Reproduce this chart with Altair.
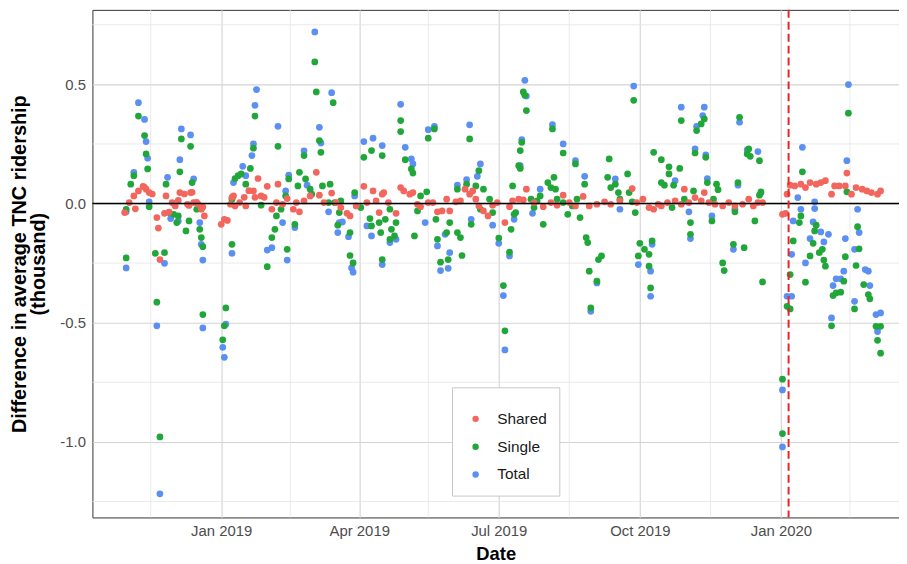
import altair as alt
import pandas as pd

# Days are counted from 1 Jan 2019; values are differences in thousands.
shared_days = [-63, -60, -57, -56, -54, -51, -50, -49, -47, -45, -42, -41, -40, -37, -36, -34, -32, -31, -30, -28,
               -27, -24, -22, -21, -20, -19, -18, -16, -15, -13, -12, -11, 0, 2, 4, 6, 7, 8, 9, 12,
               15, 16, 18, 21, 22, 24, 26, 28, 30, 33, 36, 37, 40, 43, 47, 49, 51, 54, 58, 62,
               64, 67, 72, 75, 78, 82, 84, 88, 93, 95, 99, 101, 103, 105, 106, 109, 114, 117, 119, 123,
               125, 128, 130, 135, 138, 141, 144, 147, 149, 153, 156, 159, 162, 164, 166, 168, 171, 174, 177, 180,
               185, 188, 190, 194, 197, 199, 204, 210, 215, 219, 223, 227, 231, 236, 240, 245, 250, 254, 260, 268,
               271, 275, 279, 282, 285, 287, 291, 296, 300, 302, 305, 309, 313, 315, 318, 322, 327, 331, 335, 340,
               344, 347, 350, 353, 366, 368, 369, 371, 374, 378, 381, 384, 388, 391, 394, 398, 400, 403, 407, 408,
               411, 414, 418, 421, 424, 428, 430]
shared_vals = [-0.038, 0.004, 0.032, -0.022, 0.053, 0.072, 0.068, 0.060, 0.046, 0.040, -0.059, -0.103, -0.235, -0.041, 0.032, -0.036, 0.004, 0.000, -0.010, 0.013,
               0.046, 0.040, -0.003, -0.008, 0.046, 0.047, 0.004, 0.005, -0.003, -0.024, -0.015, -0.052, -0.087, -0.066, -0.071, -0.003, 0.026, 0.032, -0.010, 0.004,
               0.026, -0.010, 0.054, 0.053, 0.026, 0.105, 0.032, 0.026, 0.072, -0.024, 0.004, 0.081, -0.003, 0.021, -0.024, 0.004, -0.035, 0.011, 0.032, 0.131,
               0.035, 0.004, 0.044, 0.004, -0.017, -0.041, -0.052, -0.010, 0.072, 0.004, 0.053, 0.011, -0.038, 0.039, 0.046, 0.004, -0.041, 0.067, 0.053, 0.039,
               0.046, -0.003, -0.013, 0.004, 0.004, -0.035, -0.031, 0.018, -0.031, 0.007, 0.011, 0.060, 0.039, 0.053, 0.018, -0.010, -0.031, -0.052, -0.007, 0.004,
               -0.080, -0.013, 0.011, 0.018, 0.015, 0.060, 0.004, -0.013, 0.004, -0.007, 0.035, 0.004, -0.010, 0.030, -0.010, -0.003, 0.007, -0.003, 0.011, 0.063,
               0.004, 0.018, -0.017, -0.024, -0.003, -0.010, 0.004, 0.011, -0.003, 0.060, 0.004, 0.025, 0.011, 0.046, 0.004, -0.003, -0.010, 0.004, -0.010, -0.003,
               0.018, -0.010, 0.004, 0.004, -0.045, -0.041, 0.039, 0.077, 0.074, 0.081, 0.067, 0.088, 0.081, 0.088, 0.096, 0.039, 0.074, 0.074, 0.074, 0.128,
               0.039, 0.067, 0.060, 0.053, 0.046, 0.039, 0.053]

single_days = [-62, -62, -59, -57, -54, -50, -49, -48, -47, -43, -42, -40, -37, -36, -34, -31, -29, -28, -26, -27,
               -23, -21, -20, -19, -16, -14, -13, -12, -12, 1, 2, 3, 7, 7, 9, 11, 13, 16, 19, 21,
               22, 26, 30, 33, 35, 36, 37, 39, 42, 43, 44, 48, 50, 51, 54, 55, 58, 59, 61, 62,
               64, 65, 66, 70, 71, 73, 74, 76, 77, 78, 84, 84, 86, 87, 91, 93, 98, 97, 98, 104,
               105, 105, 103, 107, 110, 111, 113, 110, 114, 117, 117, 120, 124, 125, 126, 128, 130, 134, 135, 139,
               140, 141, 143, 147, 148, 149, 154, 154, 156, 157, 160, 162, 163, 166, 168, 169, 171, 175, 177, 181,
               184, 185, 188, 189, 190, 191, 194, 192, 195, 195, 196, 197, 198, 199, 202, 204, 206, 208, 210, 213,
               215, 216, 217, 218, 219, 223, 223, 226, 229, 231, 232, 234, 237, 238, 239, 240, 241, 245, 246, 248,
               252, 253, 254, 257, 259, 260, 265, 266, 268, 269, 270, 272, 273, 276, 279, 280, 282, 279, 281, 287,
               292, 292, 287, 289, 295, 294, 299, 300, 302, 306, 306, 308, 309, 310, 313, 315, 316, 317, 320, 321,
               323, 324, 327, 328, 334, 335, 337, 338, 341, 343, 344, 345, 348, 351, 351, 352, 353, 366, 366, 369,
               371, 371, 373, 377, 378, 379, 381, 384, 386, 387, 388, 390, 392, 393, 394, 398, 399, 401, 404, 406,
               407, 409, 408, 413, 414, 415, 416, 419, 422, 423, 427, 428, 430, 430]
single_vals = [-0.228, -0.024, 0.081, 0.117, 0.367, 0.285, 0.208, 0.145, -0.013, -0.209, -0.414, -0.979, -0.206, 0.081, -0.038, -0.045, -0.080, -0.052, 0.271, 0.133,
               -0.115, -0.073, 0.240, 0.088, -0.024, -0.108, -0.143, -0.181, -0.466, -0.572, -0.513, -0.438, -0.171, 0.018, 0.105, 0.117, 0.124, 0.081, 0.147, 0.232,
               0.367, -0.007, -0.265, -0.143, -0.108, -0.052, 0.240, -0.024, 0.032, -0.192, 0.103, -0.087, 0.074, 0.131, 0.201, 0.103, 0.060, 0.039, 0.594, 0.468,
               0.264, 0.215, 0.074, 0.004, 0.081, 0.423, 0.004, -0.091, -0.038, 0.011, -0.122, -0.218, -0.249, 0.046, -0.017, 0.194, 0.222, -0.063, -0.094, -0.122,
               0.201, -0.235, -0.080, -0.066, -0.024, -0.108, -0.136, -0.150, -0.080, 0.348, 0.302, 0.184, 0.145, 0.128, -0.136, -0.031, 0.032, 0.049, 0.274, 0.313,
               -0.066, -0.150, -0.246, -0.122, -0.235, -0.080, 0.060, -0.122, -0.143, -0.218, 0.081, 0.271, -0.087, 0.074, 0.138, -0.024, 0.060, 0.018, -0.038, -0.145,
               -0.344, -0.534, -0.204, -0.108, 0.074, -0.045, 0.159, -0.038, 0.147, 0.222, 0.257, 0.468, 0.454, 0.390, 0.018, -0.017, 0.011, 0.032, -0.087, 0.088,
               0.067, 0.313, 0.110, 0.060, 0.018, 0.212, 0.004, -0.045, -0.010, 0.166, 0.018, -0.059, 0.081, -0.143, -0.164, -0.284, -0.438, -0.326, -0.235, -0.220,
               0.110, 0.187, 0.067, 0.081, 0.046, 0.018, 0.124, 0.046, 0.007, 0.433, -0.038, -0.220, -0.167, -0.192, -0.263, -0.354, 0.215, -0.213, -0.157, 0.184,
               0.154, 0.124, 0.088, 0.077, 0.077, -0.017, 0.147, 0.348, 0.018, -0.080, -0.129, 0.053, 0.212, 0.306, 0.334, 0.355, 0.194, 0.088, -0.073, 0.018,
               0.081, 0.058, -0.249, -0.281, -0.171, -0.035, 0.088, 0.362, -0.185, 0.208, 0.229, 0.198, -0.073, 0.180, 0.035, 0.049, -0.329, -0.737, -0.965, -0.431,
               -0.442, -0.298, -0.157, -0.080, -0.052, 0.133, -0.330, -0.220, -0.167, -0.115, -0.091, -0.206, -0.192, -0.237, -0.263, -0.513, -0.386, -0.375, -0.372, -0.326,
               -0.223, 0.379, 0.049, -0.442, -0.260, -0.097, -0.190, -0.340, -0.382, -0.400, -0.515, -0.574, -0.628, -0.515]

total_days = [-62, -62, -57, -54, -50, -49, -48, -47, -42, -40, -37, -35, -33, -28, -27, -26, -20, -18, -14, -13,
              -12, -12, 1, 2, 3, 7, 8, 14, 16, 20, 21, 22, 23, 30, 33, 37, 40, 42, 43, 44,
              48, 54, 56, 61, 64, 65, 70, 72, 76, 77, 79, 83, 85, 86, 87, 93, 99, 98, 95, 105,
              105, 110, 114, 117, 120, 124, 125, 133, 135, 139, 141, 143, 146, 148, 149, 154, 160, 162, 163, 167,
              169, 177, 181, 184, 185, 188, 191, 198, 199, 196, 195, 203, 208, 216, 223, 231, 237, 241, 245, 257,
              260, 269, 272, 280, 280, 281, 296, 300, 305, 306, 309, 310, 314, 315, 316, 317, 320, 334, 335, 337,
              338, 343, 350, 352, 366, 366, 369, 372, 372, 373, 376, 378, 379, 381, 384, 386, 387, 387, 391, 393,
              396, 398, 399, 401, 404, 406, 407, 408, 409, 413, 413, 415, 416, 420, 422, 423, 427, 428, 430]
total_vals = [-0.270, -0.035, 0.131, 0.423, 0.353, 0.260, 0.190, 0.007, -0.513, -1.218, -0.251, 0.110, -0.063, -0.073, 0.184, 0.313, 0.288, 0.103, -0.080, -0.171,
              -0.237, -0.522, -0.603, -0.645, -0.506, -0.209, 0.088, 0.156, 0.117, 0.201, 0.250, 0.412, 0.478, -0.195, -0.185, 0.324, -0.080, 0.053, -0.237, 0.119,
              -0.101, 0.221, 0.077, 0.720, 0.320, 0.254, -0.035, 0.465, -0.122, -0.080, -0.077, -0.139, -0.270, -0.288, 0.032, 0.260, 0.274, -0.136, -0.094, 0.243,
              -0.256, -0.164, -0.150, 0.416, 0.236, 0.187, 0.166, -0.080, 0.310, 0.324, -0.178, -0.281, -0.129, -0.272, -0.206, 0.077, 0.100, 0.330, -0.066, 0.114,
              0.166, -0.091, -0.167, -0.386, -0.614, -0.220, -0.066, 0.517, 0.451, 0.268, 0.159, -0.041, 0.060, 0.331, 0.250, 0.180, 0.114, -0.452, -0.333, 0.103,
              -0.024, 0.493, -0.256, -0.389, -0.284, -0.171, 0.096, 0.404, -0.035, -0.147, 0.229, 0.324, 0.369, 0.404, 0.204, 0.105, -0.052, -0.192, -0.024, 0.077,
              0.341, 0.225, 0.218, 0.044, -0.782, -1.021, -0.389, -0.389, -0.213, -0.073, 0.025, -0.024, 0.236, -0.249, -0.147, -0.077, -0.021, 0.007, -0.119, -0.161,
              -0.129, -0.480, -0.344, -0.316, -0.316, -0.284, -0.147, 0.180, 0.499, -0.410, -0.192, -0.024, -0.122, -0.277, -0.284, -0.344, -0.466, -0.537, -0.459]

series_names = ["Shared", "Single", "Total"]
series_colors = ["#F2665E", "#21A63A", "#5B8FF2"]

x_tick_dates = [(2019, 1, 1), (2019, 4, 1), (2019, 7, 1), (2019, 10, 1), (2020, 1, 1)]
x_minor_dates = ["2018-11-16", "2019-02-15", "2019-05-16", "2019-08-16", "2019-11-16", "2020-02-15"]
y_ticks = [-1.0, -0.5, 0.0, 0.5]
y_minor = [-1.25, -0.75, -0.25, 0.25, 0.75]
policy_date = ["2020-01-06"]

base = pd.Timestamp("2019-01-01")


def to_date(d):
    return (base + pd.Timedelta(days=int(d))).strftime("%Y-%m-%dT00:00:00")


rows = []
for name, days, vals in [("Total", total_days, total_vals),
                         ("Single", single_days, single_vals),
                         ("Shared", shared_days, shared_vals)]:
    for d, v in zip(days, vals):
        rows.append({"date": to_date(d), "value": v, "series": name})
df = pd.DataFrame(rows)

FONT = "Liberation Sans"

x_scale = alt.Scale(domain=[alt.DateTime(year=2018, month=10, date=9),
                            alt.DateTime(year=2020, month=3, date=18)])
y_scale = alt.Scale(domain=[-1.317, 0.8125], nice=False, zero=False)

points = alt.Chart(df).mark_circle(size=46, opacity=1).encode(
    x=alt.X("date:T", scale=x_scale,
            axis=alt.Axis(values=[alt.DateTime(year=y, month=m, date=d) for (y, m, d) in x_tick_dates],
                          format="%b %Y", title="Date", labelPadding=6,
                          titleY=36, titleBaseline="middle", titleFontSize=18.5)),
    y=alt.Y("value:Q", scale=y_scale,
            axis=alt.Axis(values=y_ticks,
                          labelExpr="replace(format(datum.value, '.1f'), '\u2212', '-')",
                          title=["Difference in average TNC ridership", "(thousand)"],
                          titleX=-73, titleY=255.5, titleAngle=270,
                          titleAlign="center", titleBaseline="middle",
                          titleLineHeight=19, titleFontSize=20, labelPadding=7)),
    color=alt.Color("series:N",
                    scale=alt.Scale(domain=series_names, range=series_colors),
                    legend=alt.Legend(title=" ", titleFontSize=6, titlePadding=6,
                                      orient="none", legendX=362, legendY=380,
                                      padding=12, strokeColor="#c8c8c8", fillColor="white",
                                      symbolType="circle", symbolSize=42, symbolStrokeWidth=0,
                                      symbolOffset=4, labelOffset=14, rowPadding=11,
                                      labelFont=FONT, labelFontSize=15.5, labelColor="#1a1a1a")),
)

minor_x = alt.Chart(pd.DataFrame({"date": [d + "T00:00:00" for d in x_minor_dates]})).mark_rule(
    color="#e4e4e4", strokeWidth=0.8).encode(x=alt.X("date:T", scale=x_scale))
minor_y = alt.Chart(pd.DataFrame({"value": y_minor})).mark_rule(
    color="#e4e4e4", strokeWidth=0.8).encode(y=alt.Y("value:Q", scale=y_scale))
zero_line = alt.Chart(pd.DataFrame({"value": [0.0]})).mark_rule(
    color="black", strokeWidth=1.5).encode(y=alt.Y("value:Q", scale=y_scale))
policy_line = alt.Chart(pd.DataFrame({"date": [d + "T00:00:00" for d in policy_date]})).mark_rule(
    color="#E8242B", strokeWidth=2, strokeDash=[8, 4]).encode(x=alt.X("date:T", scale=x_scale))

chart = alt.layer(minor_x, minor_y, points, zero_line, policy_line).properties(
    width=812, height=511,
    padding={"left": 85, "top": 0, "right": 0, "bottom": 47},
    autosize=alt.AutoSizeParams(type="none"),
    background="white",
).configure_view(
    stroke="#333333", strokeWidth=1
).configure_axis(
    labelFont=FONT, labelFontSize=15, labelColor="#4d4d4d",
    titleFont=FONT, titleFontSize=19, titleFontWeight="bold", titleColor="black",
    domain=False, ticks=False, gridColor="#d3d3d3", gridWidth=1.1,
)

chart.save("out.html", embed_options={"renderer": "svg", "actions": False})
